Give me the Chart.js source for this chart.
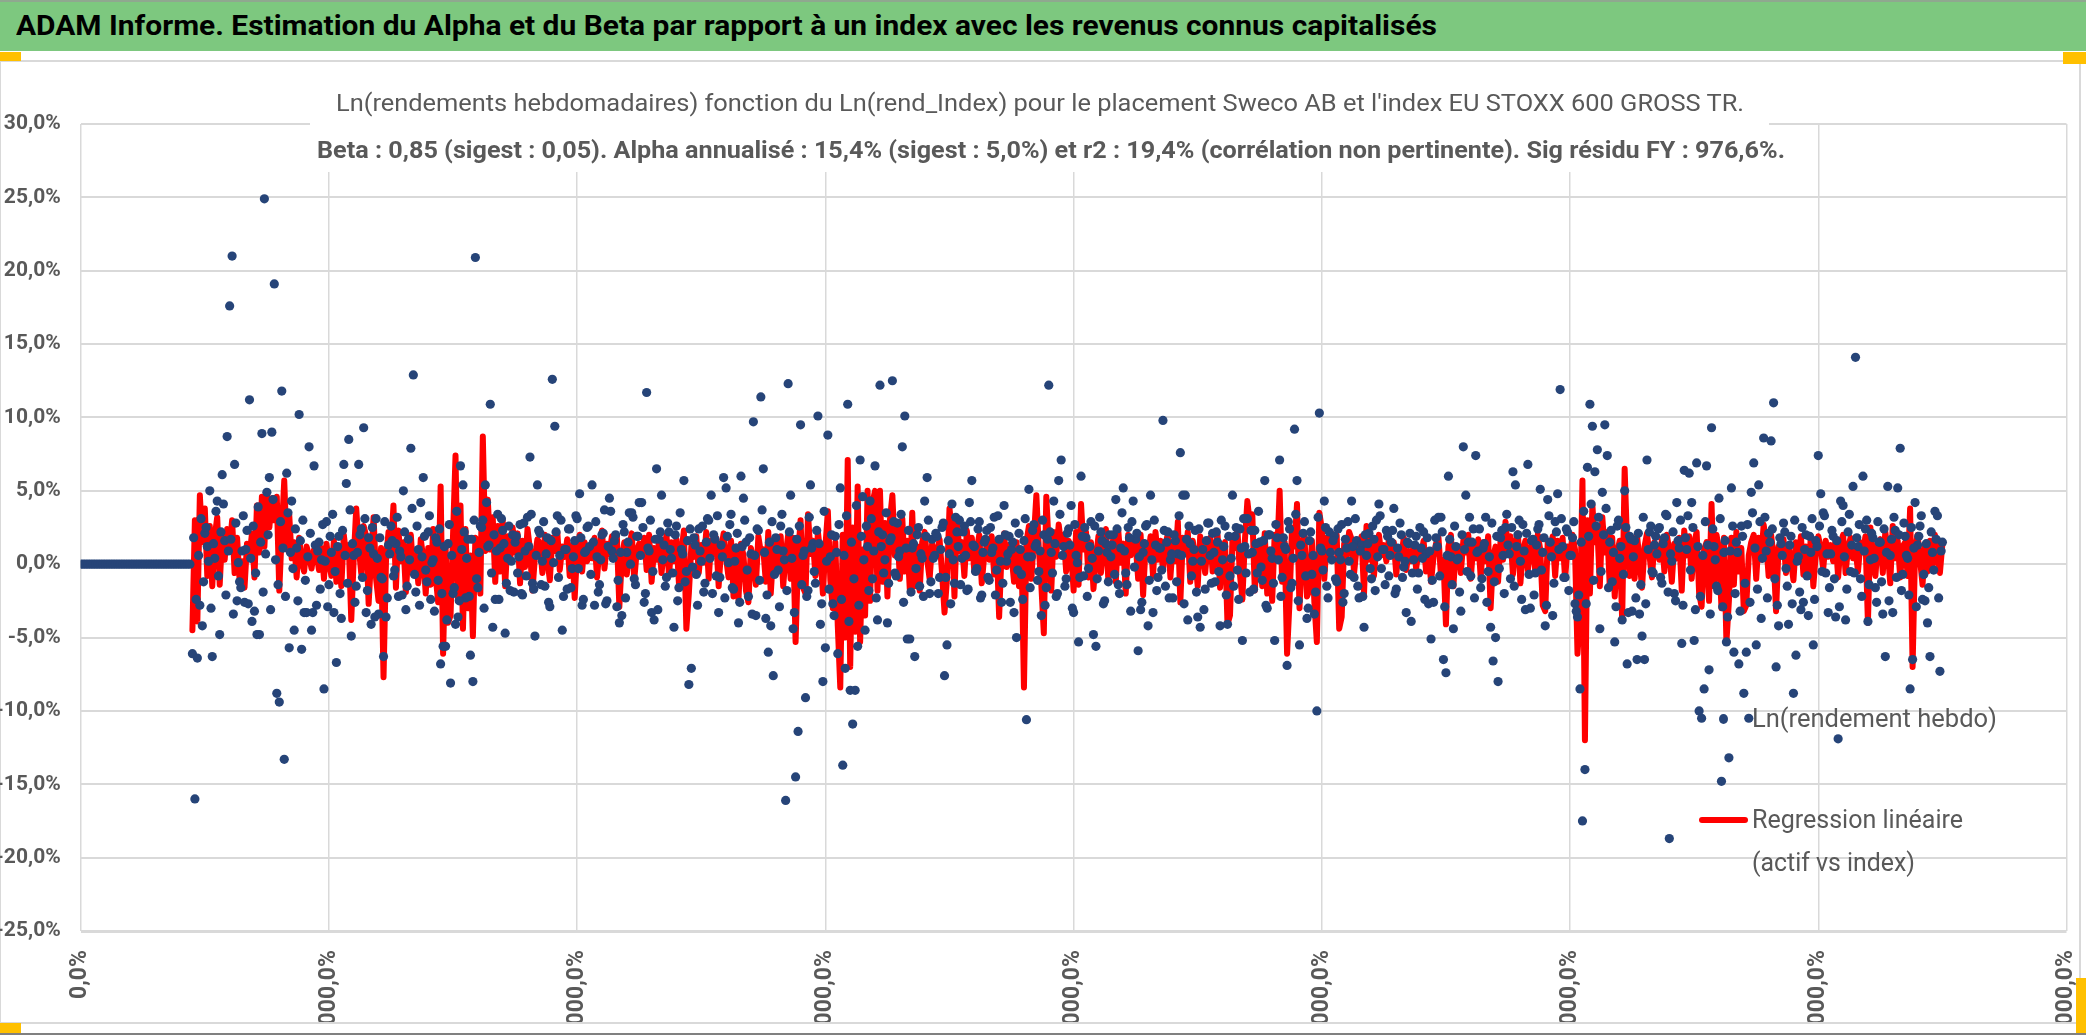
<!DOCTYPE html>
<html lang="fr">
<head>
  <meta charset="UTF-8">
  <title>ADAM Informe - Sweco AB</title>
  <style>
    html, body { margin: 0; padding: 0; background: #fff; }
    body { width: 2086px; height: 1035px; position: relative; overflow: hidden; font-family: Roboto, 'Open Sans', sans-serif; }
    #bandeau { position: absolute; left: 0; top: 0; width: 2086px; height: 51px; background: #7DC87F; border-top: 2px solid #8FA88F; box-sizing: border-box; }
    #cadre { position: absolute; left: 0; top: 60px; width: 2081px; height: 964px; border: 2px solid #D9D9D9; border-left-width: 1px; box-sizing: border-box; }
    canvas { position: absolute; left: 0; top: 62px; z-index: 1; }
    .txt { position: absolute; white-space: nowrap; transform-origin: 0 50%; line-height: 1; color: #595959; z-index: 3; }
    .marque { position: absolute; z-index: 3; }
    .poignee { position: absolute; background: #FFC000; z-index: 3; }
    #basPage { position: absolute; left: 0; top: 1033px; width: 2086px; height: 2px; background: #808080; }
  </style>
</head>
<body>

  <div id="bandeau"></div>
  <span class="txt" data-w="1421" style="left:16px; top:13px; font-size:27px; font-weight:bold; color:#000;">ADAM Informe. Estimation du Alpha et du Beta par rapport à un index avec les revenus connus capitalisés</span>

  <div id="cadre"></div>
  <canvas id="graph" width="2078" height="960"></canvas>

  <span class="txt" data-w="1408" style="left:336px; top:92px; font-size:23px;">Ln(rendements hebdomadaires) fonction du Ln(rend_Index) pour le placement Sweco AB et l'index EU STOXX 600 GROSS TR.</span>
  <span class="txt" data-w="1468" style="left:317px; top:139px; font-size:23px; font-weight:bold;">Beta : 0,85 (sigest : 0,05). Alpha annualisé : 15,4% (sigest : 5,0%) et r2 : 19,4% (corrélation non pertinente). Sig résidu FY : 976,6%.</span>

  <div class="marque" style="left:1719px; top:714px; width:9px; height:10px; border-radius:50%; background:#264478;"></div>
  <span class="txt" data-w="245" style="left:1752px; top:705px; font-size:26px;">Ln(rendement hebdo)</span>
  <div class="marque" style="left:1699px; top:817px; width:49px; height:6px; border-radius:3px; background:#FF0000;"></div>
  <span class="txt" data-w="211" style="left:1752px; top:806px; font-size:26px;">Regression linéaire</span>
  <span class="txt" data-w="163" style="left:1752px; top:849px; font-size:26px;">(actif vs index)</span>

  <div class="poignee" style="left:0; top:52px; width:21px; height:9px;"></div>
  <div class="poignee" style="left:2063px; top:52px; width:23px; height:12px;"></div>
  <div class="poignee" style="left:0; top:1023px; width:21px; height:10px;"></div>
  <div class="poignee" style="left:2076px; top:978px; width:10px; height:55px;"></div>
  <div id="basPage"></div>

  <script src="https://cdnjs.cloudflare.com/ajax/libs/Chart.js/4.4.1/chart.umd.js"></script>
  <script>
    // semaines paires : pas de 2 a partir de la semaine 0
    const pasSemaine = 2;
    // la regression ne demarre qu'a la semaine 90 (indice 45)
    const decalageReg = 45;
    // semaines impaires : a partir de la semaine 91
    const premiereImpaire = 91;

    const graduationsX = [0, 200, 400, 600, 800, 1000, 1200, 1400, 1600];
    const graduationsY = [-25, -20, -15, -10, -5, 0, 5, 10, 15, 20, 25, 30];

    // Ln(rendement hebdo), en %, semaines paires
    const rendHebdo = [
      0, 0, 0, 0, 0, 0, 0, 0, 0, 0, 0, 0, 0, 0, 0, 0, 0, 0, 0, 0, 0, 0, 0,
      0, 0, 0, 0, 0, 0, 0, 0, 0, 0, 0, 0, 0, 0, 0, 0, 0, 0, 0, 0, 0, 0,
      -6.1, -16.0, -6.4, -2.8, -4.2, 2.1, 1.2, 5.0, -6.3, 0.4,
      4.3, -4.8, 6.1, 1.6, 8.7, 17.6, 21.0, 6.8, -2.5, -1.2,
      0.9, -2.6, 2.3, 11.2, -3.9, -3.2, -4.8, -4.8, 8.9, 24.9,
      4.9, 5.9, 9.0, 19.1, -8.8, -9.4, 11.8, -13.3, 6.2, -5.7,
      4.3, -4.5, 1.1, 10.2, -5.8, -3.3, -3.3, 8.0, -4.5, 6.7,
      -2.8, 1.5, 0.3, -8.5, 2.9, -1.4, 0.8, -3.3, -6.7, 1.9,
      -3.7, 6.8, 5.5, 8.5, -4.9, 0.6, -1.5, 6.8, 2.4, 9.3,
      -3.3, 1.8, -4.1, 0.7, 3.1, -3.4, -0.9, -6.3, -3.6, 1.3,
      2.6, -0.8, 1.4, -2.2, 0.5, 5.0, -3.1, 1.7, 7.9, 12.9,
      -1.9, 1.0, 4.2, 5.9, -0.4, 2.2, -2.4, 0.3, 1.8, -1.1,
      -6.8, -5.6, -5.6, 1.4, -8.1, -2.0, -4.1, -3.6, 6.7, 5.4,
      -2.3, 1.7, -6.2, -8.0, 20.9, -1.6, 2.6, 3.0, 5.4, 1.2,
      10.9, -4.3, -2.4, 3.4, 1.1, 2.3, -4.7, 0.4, -1.8, 2.0,
      1.5, -0.6, 2.7, -2.1, 0.9, 3.2, 7.3, -1.3, -4.9, 5.4,
      2.1, 0.2, -1.5, 1.8, -2.9, 12.6, 9.4, 3.3, 0.6, -4.5,
      1.0, -1.7, 2.4, -0.3, 1.6, 3.1, 4.8, -2.8, 0.8, 2.5,
      1.2, 5.4, -2.8, 0.5, -1.4, 2.0, 3.7, -2.5, 4.5, 0.9,
      1.6, -2.9, -4.0, -3.5, 2.2, 0.8, 3.5, 3.5, -1.0, 1.9,
      4.2, 4.2, -2.6, 11.7, 0.9, -3.3, -3.8, 6.5, 1.7, 4.7,
      1.3, -0.9, 2.2, 0.4, -4.3, 2.6, -1.6, 1.0, 5.7, -0.5,
      -8.2, -7.1, 1.8, -0.7, 2.4, 0.2, -1.9, 1.5, 3.0, 4.7,
      2.0, -0.8, -3.3, 1.3, 5.9, 5.2, 0.1, 3.4, -1.7, 1.1,
      -4.0, 6.0, 4.5, 1.5, -2.2, 0.7, 9.7, -3.5, 2.3, 11.4,
      6.5, -3.7, -6.0, -4.2, -7.6, 1.8, -0.4, 2.6, 0.9, -16.1,
      12.3, 4.7, -4.4, -14.5, -11.4, 9.5, 0.6, -9.1, -1.8, 5.4,
      1.4, -1.3, 10.1, -4.1, -8.0, -5.7, 8.8, 0.5, -2.7, 1.9,
      -6.1, 5.2, -13.7, -7.1, 10.9, -8.6, -10.9, -8.6, -5.6, 7.1,
      4.6, -4.5, 1.2, 4.3, -1.0, 6.7, -3.8, 12.2, 2.0, 0.3,
      -4.0, 1.6, 12.5, -0.6, 2.8, 0.9, 8.0, 10.1, -5.1, -5.1,
      1.1, -6.3, 2.0, -1.5, 0.4, 4.3, 5.9, -2.0, 1.7, 0.6,
      1.9, -0.9, 2.5, -7.6, -5.5, 0.7, 4.1, -1.3, 2.2, 3.0,
      0.4, 2.6, -1.8, 4.2, 5.7, 1.2, -0.3, 2.9, -2.1, 1.5,
      2.3, -1.1, 0.8, 3.2, -0.4, 1.7, -2.6, 4.0, 0.2, 1.9,
      1.0, -3.3, -5.0, 2.1, -0.7, 1.6, -10.6, 5.1, 0.5, 2.7,
      1.4, -0.5, -3.5, 2.0, -1.6, 12.2, 0.8, 4.3, -2.2, 5.7,
      7.1, 1.2, -1.0, 2.4, 4.0, -3.3, 0.6, -5.3, 6.0, -0.8,
      1.8, -0.3, 2.9, -4.8, -5.6, 0.9, 2.2, -2.7, 1.4, -1.2,
      0.5, 2.0, 4.4, -1.4, 1.1, 5.2, -0.6, 2.5, -3.2, 4.3,
      1.7, -5.9, -3.1, 0.8, 2.6, -4.2, 4.7, -3.3, 1.3, -0.9,
      1.1, 9.8, -1.5, 2.2, 0.3, -2.3, 1.6, 0.7, 7.6, 4.7,
      4.7, -3.8, 1.4, 0.2, 2.3, -3.6, -4.3, 1.0, -1.7, 2.8,
      0.6, 2.1, -1.2, 1.5, -4.2, 0.3, 2.6, -4.1, -0.8, 4.7,
      1.9, -0.4, 2.4, -5.2, 1.2, 3.1, -1.9, 0.8, 2.3, -0.6,
      1.5, -1.1, 5.7, -3.0, 2.0, 0.4, -5.2, 1.8, 7.1, -0.9,
      1.2, -6.9, 2.4, -1.3, 9.2, 5.7, -5.5, 0.6, 2.9, -3.7,
      1.6, -0.7, -3.4, -10.0, 10.3, 0.9, 4.3, -1.5, 2.2, 0.3,
      1.9, -1.2, 0.8, 2.7, -2.0, 1.1, 0.2, 4.3, -0.9, 1.6,
      -2.3, 1.3, -4.3, 0.6, 2.1, -1.0, 1.7, 3.0, 4.1, -0.3,
      1.0, 2.3, -0.8, 1.5, 3.8, -1.7, 0.5, 2.0, -0.2, -3.3,
      1.4, -3.9, 0.3, 1.9, -0.6, 1.1, 2.2, 0.7, -2.7, -5.1,
      -2.6, 1.8, 3.2, 3.2, -6.5, -7.4, 6.0, 0.5, -4.4, 1.2,
      0.4, -3.2, 8.0, 4.7, 1.5, -0.8, 2.4, 7.4, 0.9, -1.6,
      1.1, 3.2, -0.5, -4.3, -6.6, -5.0, -8.0, 1.8, 0.6, 2.5,
      1.3, -1.0, 6.3, 5.4, 2.0, 0.2, 2.7, -3.1, 6.8, -3.0,
      1.7, -0.6, 2.4, 5.1, 0.8, -4.2, 4.4, 1.5, -3.5, 2.9,
      4.8, 11.9, 1.2, -0.9, 2.2, 0.6, 1.8, -2.7, -3.6, -8.5,
      -17.5, -14.0, 6.6, 10.9, 9.4, 6.3, 7.8, -4.4, 4.9, 9.5,
      7.4, 1.5, -1.2, -5.3, 2.6, 0.4, -3.8, 5.0, -6.8, 1.9,
      -3.2, 1.6, -6.5, -3.4, -4.9, -6.5, 7.1, 2.2, -0.5, 1.3,
      0.7, 2.5, -1.3, 1.8, 3.3, -18.7, 0.2, -2.0, 4.2, 1.1,
      -5.4, 6.4, 1.0, 6.2, 4.2, -5.2, 6.9, -10.0, -10.5, -8.5,
      6.7, -7.2, 9.3, 1.2, -1.5, 4.5, -14.8, 0.8, -5.3, -13.2,
      5.2, -6.0, 1.5, -6.8, 2.6, -8.8, -6.0, -10.5, 4.9, 6.9,
      -5.5, 5.4, -3.7, 8.6, 0.9, 2.1, 8.4, 11.0, -7.0, -4.2,
      1.4, 2.8, -0.3, -4.1, 1.9, -8.8, -6.2, 0.5, -3.1, -2.6,
      2.0, -3.5, 0.8, -5.5, 1.6, 7.4, 4.8, 3.5, -0.6, -3.3,
      0.7, 1.9, -3.6, -11.9, 4.3, 4.0, -3.8, 2.2, -0.5, 5.3,
      14.1, 1.2, -1.0, 6.0, 2.4, -3.9, 0.3, 1.8, -1.6, 2.9,
      1.5, -3.4, -6.3, 5.3, 0.6, -3.3, 2.3, 5.2, 7.9, -0.7,
      1.9, 0.4, -8.5, -6.5, 4.2, 1.3, 2.6, -2.4, -2.5, -4.0,
      -6.3, 0.8, 3.6, 3.3, -7.3, 1.5
    ];

    // Ln(rendement hebdo), en %, semaines impaires 91 a 1499
    const rendHebdoImpairs = [
      1.8, -2.4, 0.6, 3.1, -1.2, 2.5, 0.2, -3.0, 1.4, 3.6,
      -0.8, 2.2, 4.1, -2.1, 0.9, 1.7, -3.4, 2.8, 0.1, -1.6,
      3.3, 1.0, -2.7, 0.4, 2.6, -0.6, 3.9, 1.5, -1.9, 0.7,
      2.0, -3.1, 4.4, 0.3, -1.4, 2.9, 1.1, -2.2, 3.5, 0.8,
      -0.3, 2.4, -2.5, 1.6, 3.0, -1.1, 0.5, 2.1, -3.3, 1.3,
      0.9, -1.7, 2.7, 0.2, -2.9, 1.9, 3.4, -0.5, 1.2, -2.0,
      2.3, 0.6, -1.3, 3.7, 1.4, -2.6, 0.8, 2.0, -0.9, 3.1,
      -1.8, 1.1, 2.5, -3.6, 0.4, 1.8, -1.0, 2.9, -2.3, 0.7,
      1.6, -0.4, 3.2, 0.9, -2.1, 2.2, -1.5, 0.3, 3.8, -0.7,
      2.6, -2.8, 0.5, 1.9, -1.2, 3.3, 0.1, -3.2, 1.5, 2.4,
      -2.0, 1.2, -3.8, 2.7, 0.6, -1.6, 3.6, -2.5, 1.0, 2.2,
      0.4, -2.2, 1.7, 3.0, -1.0, 0.8, 2.5, -3.0, 4.2, 1.3,
      -0.6, 2.0, 0.9, -2.4, 3.1, 1.4, -1.3, 2.6, 0.2, -1.9,
      1.9, 0.5, -2.0, 2.8, -0.8, 1.2, 3.4, -1.7, 0.6, 2.3,
      -1.4, 2.9, 0.7, -2.6, 1.6, 0.1, 2.2, -0.9, 3.0, -2.2,
      1.0, 2.4, -1.6, 0.5, 3.3, -0.3, 1.8, -2.4, 0.9, 2.6,
      -0.7, 1.5, 2.9, -1.9, 0.3, 2.1, -2.7, 1.2, 3.6, 0.4,
      2.0, -1.1, 0.8, 2.7, -2.3, 1.5, 0.0, 3.2, -1.4, 1.9,
      0.6, 2.5, -2.0, 1.1, 3.0, -0.5, 1.7, -3.1, 2.2, 0.3,
      -1.5, 2.8, 1.0, -0.6, 2.0, -2.5, 3.5, 0.7, -1.2, 1.6,
      2.4, -0.2, 1.3, -2.8, 0.9, 2.6, -1.3, 3.1, 0.4, -2.0,
      1.7, 3.3, -0.9, 0.5, -2.3, 1.9, 2.7, -1.6, 0.2, 2.1,
      -2.6, 1.2, 3.0, -0.4, 1.8, -3.4, 0.6, 2.4, -1.1, 3.7,
      0.8, -2.1, 1.5, 2.9, -0.7, 1.0, -2.9, 3.4, 0.3, -1.8,
      2.2, 0.4, -3.3, 1.7, 2.6, -1.4, 0.9, -2.2, 3.2, 1.1,
      -0.5, 2.3, 1.4, -2.7, 3.6, 0.2, -1.7, 2.0, -3.5, 0.8,
      2.7, -2.4, 0.6, 3.3, -3.9, 1.5, -1.0, 4.0, -2.8, 1.9,
      0.3, 2.6, -1.8, 3.1, 0.9, -2.3, 2.2, 1.2, -0.6, 3.5,
      -1.3, 1.8, 2.9, -0.8, 0.5, 3.4, -2.6, 1.1, 2.3, -1.9,
      1.4, -0.3, 2.5, 0.7, -2.2, 1.9, 3.0, -1.2, 0.4, 2.1,
      -2.0, 1.0, 2.8, -0.9, 1.6, -2.7, 0.3, 3.2, 1.2, -1.4,
      2.2, 0.6, -1.7, 2.9, 1.3, -0.5, 2.4, -2.3, 0.8, 1.7,
      -0.9, 2.5, 1.1, -2.1, 3.3, 0.2, -1.3, 2.0, 0.7, -2.6,
      1.5, 2.8, -0.4, 1.0, -2.4, 3.1, 0.5, -1.6, 2.3, 1.2,
      -1.1, 0.9, 3.0, -2.8, 1.7, 2.2, -0.6, 1.4, -2.0, 3.4,
      0.6, -1.5, 2.1, 1.3, -3.0, 2.7, 0.1, -0.9, 1.9, 2.5,
      -2.2, 1.2, 0.4, 2.6, -1.0, 3.2, 1.6, -2.5, 0.8, 2.0,
      1.3, -0.7, 2.4, -2.0, 3.5, 0.9, -1.4, 1.8, 2.9, -0.2,
      2.1, 0.5, -2.6, 1.4, 2.7, -1.1, 0.3, 3.0, -1.8, 1.1,
      -0.4, 2.3, 1.5, -2.3, 0.7, 2.0, -1.2, 3.3, 0.6, -2.7,
      1.7, 2.6, -0.8, 1.0, -1.9, 2.4, 0.2, -3.1, 1.6, 2.8,
      -1.3, 0.8, 2.2, -0.5, 3.0, 1.2, -2.1, 1.9, 0.4, -1.5,
      2.5, -2.4, 1.1, 3.1, -0.6, 0.7, 2.3, -1.7, 1.4, 3.6,
      -0.2, 1.6, -2.8, 2.0, 0.9, -1.3, 2.7, 0.3, -2.2, 1.8,
      1.0, 2.9, -1.6, 0.4, 3.4, -2.5, 1.3, 2.1, -0.8, -3.0,
      2.2, 0.6, -1.9, 3.2, 1.1, -0.4, 2.5, -2.3, 0.8, 1.6,
      -1.0, 2.4, 0.3, -2.6, 1.7, 2.9, -0.7, 1.2, 3.1, -1.5,
      0.9, -2.2, 2.0, 1.4, -0.3, 2.6, -1.8, 0.5, 3.3, 1.0,
      -1.4, 1.9, 0.6, 2.3, -2.0, 1.1, 2.8, -0.9, 0.2, 1.5,
      2.1, -0.6, 1.3, -1.7, 2.5, 0.4, -2.4, 1.8, 0.9, -1.1,
      3.0, 1.2, -0.8, 2.2, -2.9, 0.6, 1.7, -1.4, 2.6, 0.3,
      -1.9, 2.0, 1.0, -0.5, 3.2, 1.5, -2.3, 0.8, 2.4, -1.0,
      1.4, -2.6, 0.5, 2.8, -1.2, 1.9, -0.3, 2.3, -2.0, 3.4,
      0.7, 2.5, -1.5, 1.2, 3.0, -2.4, 0.9, 2.1, -0.7, 1.6,
      -2.1, 1.3, 2.7, -0.4, 1.8, -2.8, 3.3, 0.5, -1.3, 2.2,
      1.0, 3.1, -0.9, 2.4, -1.8, 0.6, 2.9, -3.2, -2.1, 1.5,
      3.6, -2.7, 1.9, 4.1, -1.1, 2.6, 3.2, -0.5, 2.0, 3.8,
      -1.6, 2.3, 0.8, -2.9, 3.0, 1.2, -0.7, 2.5, -3.3, 1.7,
      0.5, -2.3, 2.1, -1.4, 3.2, -2.7, 1.0, 2.6, -0.6, 1.9,
      2.4, -0.9, 1.4, 3.4, -1.9, 0.7, 2.2, -2.5, 1.6, 3.0,
      -2.8, 1.8, 3.3, -0.4, 2.5, -3.1, 1.2, -2.2, 0.6, 2.9,
      1.3, -3.4, 2.4, 0.3, -1.8, 3.1, -2.9, 1.6, -3.6, 0.9,
      2.6, -2.0, 0.8, -3.2, 1.9, -1.3, 2.7, -2.6, 3.5, 1.1,
      -1.7, 2.9, 0.4, 3.2, -2.3, 1.5, 2.4, -1.0, -2.8, 1.8,
      0.6, 2.2, -1.5, 1.3, -2.7, 3.0, 0.2, -1.9, 2.5, 1.0,
      -0.8, 1.9, 3.1, -2.4, 1.2, 2.6, -0.5, 3.3, 0.7, -1.6,
      2.3, -1.0, 1.6, -2.9, 2.9, 0.5, -1.7, 3.4, 1.3, -0.6,
      1.8, 2.7, -2.2, 0.9, 3.0, -1.4, 2.1, 0.4, -2.6, 1.5,
      -1.2, 2.4, 0.8, -2.5, 1.7, 3.2, -0.9, 2.0, -1.8, 2.8,
      0.6, -2.1, 2.5, 1.1, -2.9, 1.9, 3.3, -0.7, 1.4, -1.6,
      2.2, -0.4, 1.7, -2.3, 0.9
    ];

    // Regression lineaire (actif vs index), en %, semaines paires a partir de 90
    const regLineaire = [
      -4.5, 3.0, -3.9, 4.7, 1.5, 3.8, -0.8, 2.6, -1.5, 1.9,
      3.2, -1.4, 2.0, 0.3, 2.4, 1.1, 3.0, -0.6, 1.8, -1.0,
      0.2, -1.6, 1.4, 0.5, 2.1, -0.9, 4.0, 0.8, 4.6, 1.2,
      4.8, 2.5, 4.5, 3.0, 4.6, -1.8, 2.2, 5.7, 1.0, 3.4,
      0.4, 1.5, -0.9, 1.8, 0.2, -0.5, 1.2, 0.6, -0.3, 1.0,
      0.7, -0.4, 1.1, -1.0, 1.4, 0.1, -0.8, 1.6, -1.2, 0.9,
      -1.5, 2.0, 0.5, 1.3, -3.8, 0.4, 3.8, 1.2, -0.6, 2.6,
      1.9, -2.7, 0.5, 3.2, -1.0, -2.5, 1.1, -7.7, 0.3, 2.2,
      1.0, 4.0, -1.6, 2.3, 0.2, 1.5, -1.9, 0.8, 2.0, -0.7,
      0.6, -1.3, 1.7, 0.4, -2.0, 1.1, -1.4, 2.4, -0.8, -2.6,
      5.3, -6.1, 1.2, -4.0, -3.5, 2.0, 7.4, -2.5, 4.0, -4.4,
      2.4, -3.0, 0.6, -4.9, 1.8, 1.5, -2.0, 8.7, 0.9, 4.4,
      1.0, 3.2, -1.2, 2.6, -0.5, 3.0, -1.5, 1.9, 0.2, 2.5,
      0.8, 2.1, -1.3, 1.6, -0.2, 2.4, 1.0, -1.8, 0.5, 1.7,
      1.4, -0.6, 2.0, 0.3, -1.1, 1.8, 0.9, 2.2, -0.4, 1.2,
      0.5, 1.7, -0.8, 1.3, -2.3, 0.9, 2.0, -0.5, 1.5, 0.2,
      1.1, 0.4, 1.8, -0.9, 1.0, 2.3, -0.3, 1.4, 0.7, 1.9,
      0.6, 1.9, -2.9, 0.4, 1.5, -0.7, 1.2, 2.1, -1.1, 0.9,
      1.4, 0.6, 1.8, -0.4, 2.0, -1.2, 1.1, 0.3, 1.6, -0.6,
      1.0, 2.0, -0.8, 1.5, 0.2, 1.7, -1.3, 0.8, 2.3, -4.4,
      -2.0, 1.2, 0.5, 1.9, -0.6, 1.3, 0.1, 2.2, -1.0, 1.6,
      0.7, 1.8, -1.5, 1.0, 2.1, 0.4, -0.9, 1.6, -2.2, 1.2,
      -2.4, 1.4, 0.6, -1.8, -2.6, 1.1, 0.2, -1.4, 1.9, 0.8,
      1.0, -1.2, 2.2, -2.0, 0.8, 1.5, -0.5, 1.9, -1.5, 0.6,
      2.0, -1.0, 1.8, -5.3, 0.5, 3.0, -1.6, -2.0, 3.4, 0.7,
      1.6, -0.8, 2.2, 0.6, -2.0, 1.2, 3.6, -1.1, -3.0, 1.5,
      -4.2, -8.4, 2.0, -5.0, 7.1, -7.0, 2.5, -4.6, 5.3, -5.3,
      1.0, -3.5, 5.0, -2.5, 4.2, 5.0, -1.8, 5.0, -1.2, 2.8,
      -2.2, 3.0, 4.7, 0.6, 2.4, -1.0, 3.1, -0.5, 1.6, -1.7,
      3.5, -1.5, 1.2, -1.8, 1.5, 2.2, 0.3, -1.0, 1.4, 0.5,
      0.8, 1.7, -0.6, -3.3, -1.0, 3.8, 2.2, -2.2, 3.0, 0.9,
      1.5, -0.8, 2.3, 0.4, 1.8, -0.5, 1.0, 2.0, -1.3, 0.6,
      1.2, 0.3, 1.9, -0.7, 1.4, -3.6, 0.9, 2.1, -0.2, 1.3,
      0.6, -1.2, 1.5, -1.5, 1.0, -8.4, 1.5, 2.6, -1.0, 1.8,
      4.7, 1.0, -1.4, -4.7, 4.6, 1.2, -1.8, 2.2, 0.5, 2.7,
      1.3, 2.0, -0.5, 1.6, 0.8, -1.8, 2.2, -1.4, 4.1, 1.0,
      2.2, -0.9, 1.5, -1.7, 0.4, 1.9, -0.6, 1.2, 2.4, -1.1,
      0.9, 1.7, -1.2, 2.3, 0.1, 1.4, -2.0, 2.0, 0.6, 1.5,
      1.4, -1.0, 2.0, -2.1, 1.2, 0.5, 1.9, -0.8, 2.2, 0.3,
      1.6, -0.4, 1.3, 2.1, -0.9, 1.5, 0.2, 2.9, -2.6, 1.8,
      0.7, 2.2, -1.2, 1.6, 0.4, -1.5, 1.9, 0.8, -0.6, 1.3,
      1.8, -0.5, 1.2, 2.0, -1.6, 0.9, 1.5, -4.1, -3.5, 1.7,
      1.1, 2.4, -0.7, -2.4, 1.6, 4.3, 2.8, 3.4, -1.8, 1.0,
      1.3, -1.5, 2.1, -2.0, 1.0, -2.5, 2.0, 0.6, 5.0, -1.2,
      1.5, -6.1, -2.5, 2.5, 1.2, 4.1, -3.0, 1.0, 2.0, -2.2,
      -1.8, 1.6, -2.6, -5.3, 3.5, 2.4, -1.0, 1.8, 0.5, 2.1,
      1.2, 2.0, -4.4, -3.6, 1.4, 0.5, 2.2, 1.7, -0.6, 1.1,
      0.8, 1.9, -2.0, 2.6, 0.3, 1.4, -0.8, 1.2, 2.0, 0.6,
      1.3, 0.2, 1.7, 0.9, 1.5, -0.7, 1.1, 0.4, 1.8, -0.4,
      0.9, 0.2, 1.3, -0.3, 1.0, 0.6, 1.6, -0.5, 0.8, -1.2,
      0.5, 1.4, 1.8, -0.8, 0.3, -4.1, 1.2, 2.0, -1.5, 1.0,
      1.2, -0.6, 1.6, 0.8, 2.0, -1.0, 1.3, 0.4, 1.7, -0.9,
      1.5, 0.2, 1.9, -3.0, 0.5, 1.2, -1.2, 1.6, 0.3, 2.9,
      0.8, 1.9, -0.7, 1.4, 2.1, -1.3, 0.9, 1.6, -0.4, 1.1,
      1.4, -0.5, 2.0, 1.0, -2.8, -3.2, 1.5, 0.7, 1.9, -0.8,
      1.6, 0.4, 1.8, -1.0, 1.2, 0.5, 2.0, 1.0, -6.1, -3.5,
      5.7, -12.0, 3.0, -2.0, 4.0, 1.5, 2.5, -1.5, 3.2, 0.8,
      2.2, -1.5, 1.8, -2.2, 0.8, 1.6, -3.8, 6.5, 1.2, -0.8,
      1.4, -1.0, 1.9, 0.3, -1.6, 1.2, 2.1, 0.6, -0.9, 1.5,
      1.1, 0.3, 1.7, -0.5, 2.0, 0.9, -1.2, 1.4, 0.4, 1.8,
      -1.8, 2.3, 0.6, 1.9, -1.0, 1.4, 2.2, -2.0, -2.9, 1.0,
      1.5, -2.5, 4.1, -1.5, 2.0, 1.0, -3.0, 1.8, -5.3, -2.5,
      1.8, -1.4, 2.2, -0.5, 1.1, -3.2, -2.8, 0.6, 1.5, 2.0,
      -1.0, 1.8, 0.3, 2.7, 1.5, -0.8, 2.0, 0.5, -3.2, 1.2,
      0.9, 1.7, -0.6, 1.3, 0.2, -1.1, 1.5, 0.4, 1.9, -0.7,
      1.2, -0.4, 1.8, -1.5, 0.7, 1.9, 1.1, -0.3, 1.6, 0.5,
      1.3, 0.2, 1.7, -0.9, 1.4, 2.0, -0.6, 1.1, 1.8, 0.4,
      1.0, -0.5, 1.5, 0.8, 1.9, -4.0, 2.5, 0.6, -0.8, 1.4,
      1.7, -0.6, 2.2, 0.9, -1.3, 2.6, 0.4, 1.6, -0.9, 1.2,
      1.5, -0.8, 3.8, -7.0, 1.0, 2.0, 0.3, -1.4, 1.2, -0.5,
      1.6, -0.3, 2.0, 0.7, -0.6, 1.4
    ];

    const enPourcent = v => v.toFixed(1).replace('.', ',') + '%';
    const policeY = { family: 'Roboto', size: 21, weight: 'bold' };
    const policeX = { family: 'Roboto', size: 23, weight: 'bold' };

    const pointsHebdo = rendHebdo.map((v, i) => ({ x: i * pasSemaine, y: v }))
      .concat(rendHebdoImpairs.map((v, i) => ({ x: premiereImpaire + i * pasSemaine, y: v })));

    // cadre blanc du titre pose sur la grille (comme le titre superpose d'Excel)
    const caseTitre = {
      id: 'caseTitre',
      beforeDatasetsDraw(chart) {
        const c = chart.ctx;
        c.save();
        c.fillStyle = '#fff';
        c.fillRect(310, 0, 1459, 110);
        c.restore();
      }
    };

    new Chart(document.getElementById('graph'), {
      type: 'scatter',
      data: {
        datasets: [
          {
            label: 'Ln(rendement hebdo)',
            data: pointsHebdo,
            backgroundColor: '#264478',
            borderWidth: 0,
            pointRadius: 4.6,
            pointHoverRadius: 4.6
          },
          {
            label: 'Regression linéaire (actif vs index)',
            data: regLineaire.map((v, i) => ({ x: (i + decalageReg) * pasSemaine, y: v })),
            showLine: true,
            borderColor: '#FF0000',
            borderWidth: 6,
            borderJoinStyle: 'round',
            borderCapStyle: 'round',
            pointRadius: 0,
            pointHoverRadius: 0
          }
        ]
      },
      plugins: [caseTitre],
      options: {
        responsive: false,
        animation: false,
        devicePixelRatio: 1,
        events: [],
        layout: { padding: { top: 62, right: 11.5, bottom: 0, left: 0 } },
        plugins: { legend: { display: false }, title: { display: false }, tooltip: { enabled: false } },
        scales: {
          x: {
            type: 'linear',
            min: 0,
            max: 1600,
            afterBuildTicks: s => { s.ticks = graduationsX.map(v => ({ value: v })); },
            afterFit: s => { s.height = 91; s.paddingLeft = 0; s.paddingRight = 0; },
            border: { display: false },
            grid: { color: '#D9D9D9', lineWidth: 1.5, drawTicks: false },
            ticks: {
              autoSkip: false,
              minRotation: 90,
              maxRotation: 90,
              padding: 19,
              color: '#595959',
              font: policeX,
              callback: v => enPourcent(v * 100)
            }
          },
          y: {
            min: -25,
            max: 30,
            afterBuildTicks: s => { s.ticks = graduationsY.map(v => ({ value: v })); },
            afterFit: s => { s.width = 80.7; s.paddingTop = 0; s.paddingBottom = 0; },
            border: { display: false },
            grid: {
              color: '#D9D9D9',
              lineWidth: c => (c.tick && c.tick.value === -25) ? 3 : 2,
              drawTicks: false
            },
            ticks: { padding: 20, color: '#595959', font: policeY, callback: v => enPourcent(v) }
          }
        }
      }
    });

    // resserre les textes sur la largeur mesuree dans l'image
    document.querySelectorAll('.txt').forEach(el => {
      const w = el.getBoundingClientRect().width;
      el.style.transform = 'scaleX(' + (Number(el.dataset.w) / w).toFixed(4) + ')';
    });
  </script>

</body>
</html>
